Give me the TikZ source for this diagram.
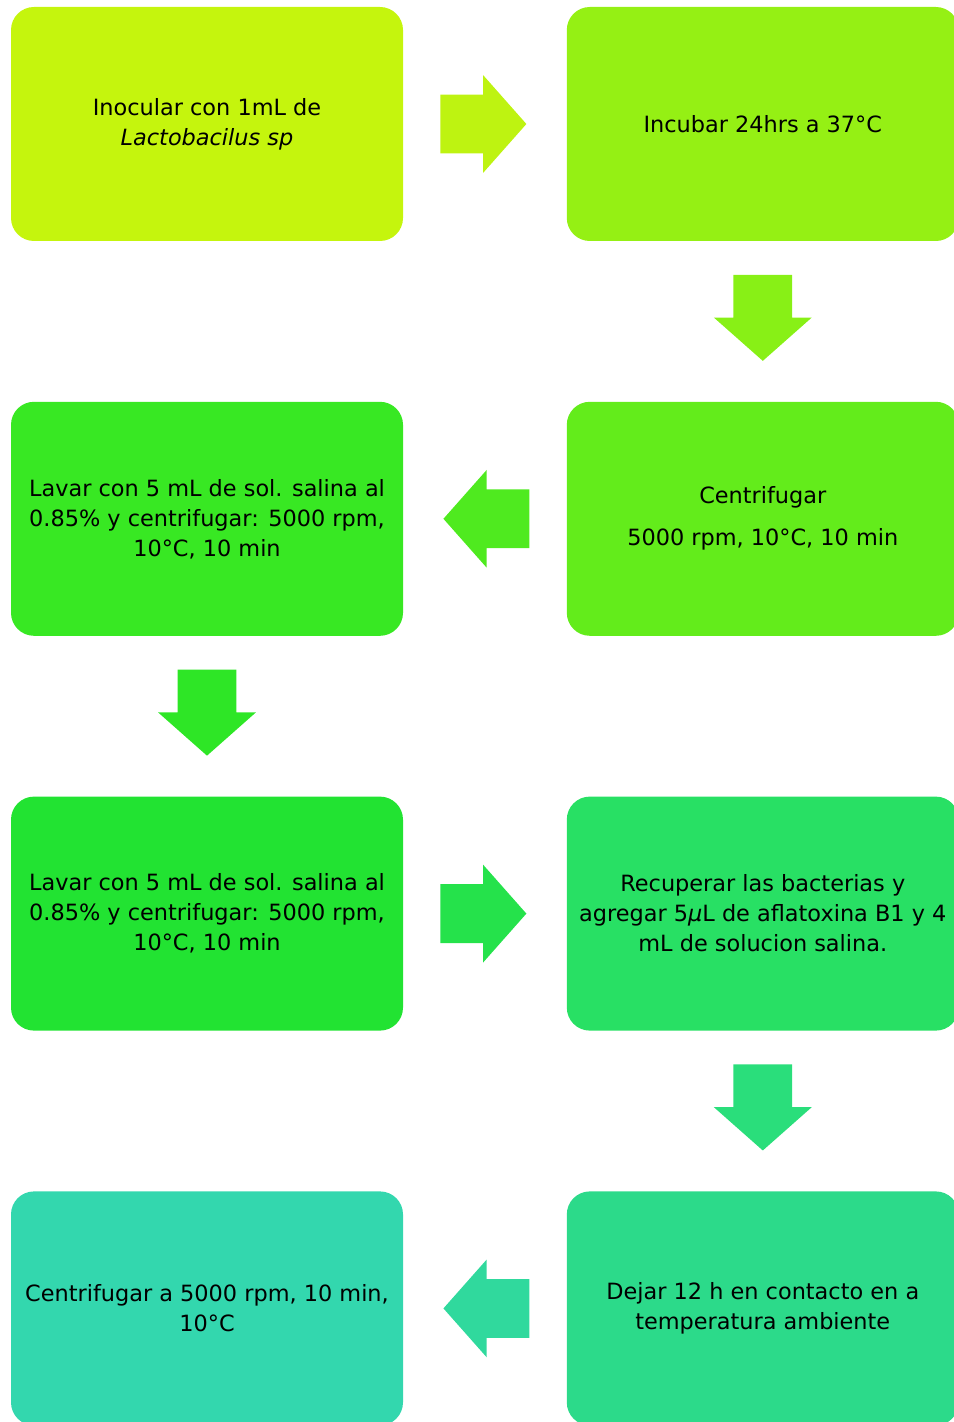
\documentclass[tikz,border=0pt]{standalone}
\usepackage{fontspec}
\setmainfont{DejaVu Sans}
\usetikzlibrary{positioning,shapes.arrows,calc}

\definecolor{boxA}{HTML}{C5F50D}
\definecolor{boxB}{HTML}{95F014}
\definecolor{boxC}{HTML}{63EC1B}
\definecolor{boxD}{HTML}{38E823}
\definecolor{boxE}{HTML}{22E332}
\definecolor{boxF}{HTML}{28E064}
\definecolor{boxG}{HTML}{2CDA8A}
\definecolor{boxH}{HTML}{33D7AE}
\definecolor{arrA}{HTML}{BEF311}
\definecolor{arrB}{HTML}{88F016}
\definecolor{arrC}{HTML}{4FEA1F}
\definecolor{arrD}{HTML}{2EE626}
\definecolor{arrE}{HTML}{25E24B}
\definecolor{arrF}{HTML}{2ADE7B}
\definecolor{arrG}{HTML}{30D99D}

\tikzstyle{stepbox} = [rectangle, rounded corners=11.5pt, minimum width=196pt, minimum height=117pt, inner sep=0pt, align=center, text=black, font=\fontsize{11.2}{15}\selectfont]
\tikzstyle{blockarrow} = [single arrow, anchor=tip, minimum height=43pt, inner xsep=0pt, inner ysep=14.5pt, single arrow head extend=9.75pt, single arrow tip angle=97]

\begin{document}
\begin{tikzpicture}[node distance=80pt and 81.5pt]

		\useasboundingbox (0,0) rectangle (476.5pt,-711pt);

		% Nodes
		\node (inoc) [stepbox, fill=boxA] at (103.5pt,-62pt) {Inocular con 1mL de\\\textit{Lactobacilus sp}};
		\node (incub) [stepbox, fill=boxB, right=of inoc] {Incubar 24hrs a 37°C};

		\node (centrif) [stepbox, fill=boxC, below=of incub] {Centrifugar\\[6pt]5000 rpm, 10°C, 10 min};
		\node (lavar1) [stepbox, fill=boxD, below=of inoc] {Lavar con 5 mL de sol. salina al\\0.85\% y centrifugar: 5000 rpm,\\10°C, 10 min};

		\node (lavar2) [stepbox, fill=boxE, below=of lavar1] {Lavar con 5 mL de sol. salina al\\0.85\% y centrifugar: 5000 rpm,\\10°C, 10 min};
		\node (recup) [stepbox, fill=boxF, below=of centrif] {Recuperar las bacterias y\\agregar 5\textit{µ}L de aflatoxina B1 y 4\\mL de solucion salina.};

		\node (dejar) [stepbox, fill=boxG, below=of recup] {Dejar 12 h en contacto en a\\temperatura ambiente};
		\node (centrif2) [stepbox, fill=boxH, below=of lavar2] {Centrifugar a 5000 rpm, 10 min,\\10°C};

		% Arrows (placed by their tip)
		\node (inoc_incub) [blockarrow, fill=arrA] at ($(inoc.east)!0.5!(incub.west)+(21pt,0)$) {};
		\node (incub_centrif) [blockarrow, fill=arrB, rotate=-90] at ($(incub.south)!0.5!(centrif.north)+(0,-20pt)$) {};
		\node (centrif_lavar1) [blockarrow, fill=arrC, rotate=180] at ($(centrif.west)!0.5!(lavar1.east)+(-21pt,0)$) {};
		\node (lavar1_lavar2) [blockarrow, fill=arrD, rotate=-90] at ($(lavar1.south)!0.5!(lavar2.north)+(0,-20pt)$) {};
		\node (lavar2_recup) [blockarrow, fill=arrE] at ($(lavar2.east)!0.5!(recup.west)+(21pt,0)$) {};
		\node (recup_dejar) [blockarrow, fill=arrF, rotate=-90] at ($(recup.south)!0.5!(dejar.north)+(0,-20pt)$) {};
		\node (dejar_centrif2) [blockarrow, fill=arrG, rotate=180] at ($(dejar.west)!0.5!(centrif2.east)+(-21pt,0)$) {};
	\end{tikzpicture}
\end{document}
